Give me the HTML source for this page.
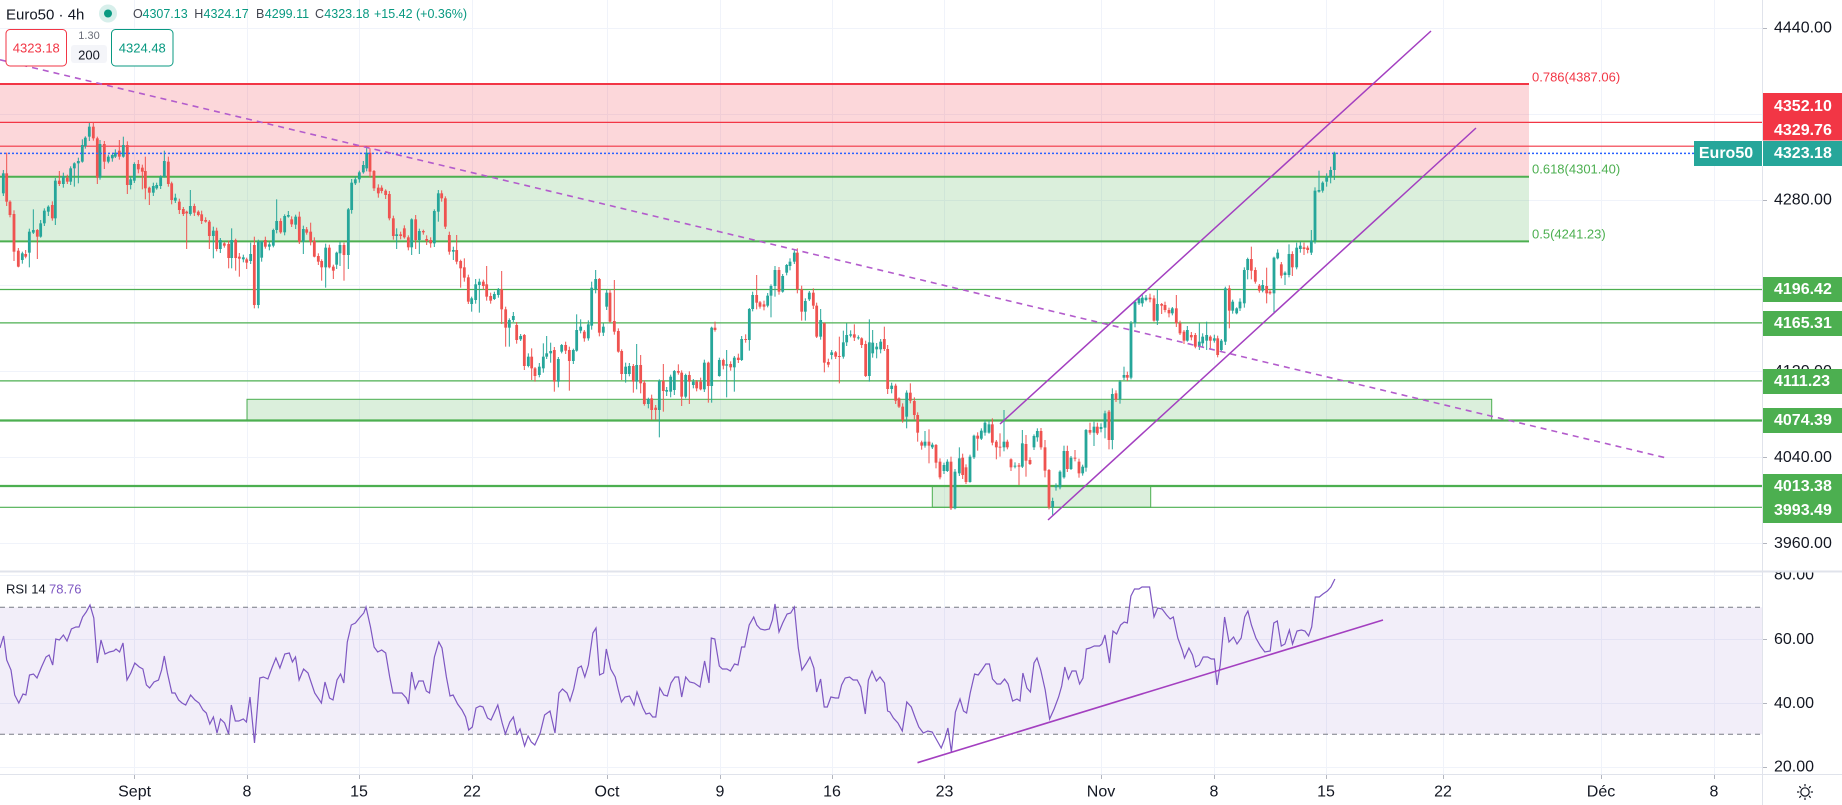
<!DOCTYPE html>
<html><head><meta charset="utf-8">
<style>
html,body{margin:0;padding:0;background:#fff;}
body{width:1842px;height:805px;overflow:hidden;position:relative;font-family:"Liberation Sans",sans-serif;}
svg{position:absolute;left:0;top:0;}
</style></head><body>
<svg width="1842" height="805" viewBox="0 0 1842 805" xmlns="http://www.w3.org/2000/svg" font-family="Liberation Sans, sans-serif">
<defs><clipPath id="rsiclip"><rect x="1763" y="572.5" width="79" height="202"/></clipPath></defs>
<!-- grid -->
<g stroke="#f0f3fa" stroke-width="1">
<line x1="0" y1="28.5" x2="1762" y2="28.5"/><line x1="0" y1="114.5" x2="1762" y2="114.5"/><line x1="0" y1="200.5" x2="1762" y2="200.5"/><line x1="0" y1="285.5" x2="1762" y2="285.5"/><line x1="0" y1="371.5" x2="1762" y2="371.5"/><line x1="0" y1="457.5" x2="1762" y2="457.5"/><line x1="0" y1="543.5" x2="1762" y2="543.5"/>
<line x1="0" y1="575.5" x2="1762" y2="575.5"/><line x1="0" y1="639.5" x2="1762" y2="639.5"/><line x1="0" y1="703.5" x2="1762" y2="703.5"/><line x1="0" y1="767.5" x2="1762" y2="767.5"/>
<line x1="134.5" y1="0" x2="134.5" y2="774"/><line x1="247.5" y1="0" x2="247.5" y2="774"/><line x1="359.5" y1="0" x2="359.5" y2="774"/><line x1="472.5" y1="0" x2="472.5" y2="774"/><line x1="607.5" y1="0" x2="607.5" y2="774"/><line x1="720.5" y1="0" x2="720.5" y2="774"/><line x1="832.5" y1="0" x2="832.5" y2="774"/><line x1="944.5" y1="0" x2="944.5" y2="774"/><line x1="1101.5" y1="0" x2="1101.5" y2="774"/><line x1="1214.5" y1="0" x2="1214.5" y2="774"/><line x1="1326.5" y1="0" x2="1326.5" y2="774"/><line x1="1443.5" y1="0" x2="1443.5" y2="774"/><line x1="1601.5" y1="0" x2="1601.5" y2="774"/><line x1="1714.5" y1="0" x2="1714.5" y2="774"/>
</g>
<!-- fib zones -->
<rect x="0" y="84" width="1529" height="92.8" fill="rgba(242,54,69,0.2)"/>
<rect x="0" y="176.8" width="1529" height="64.6" fill="rgba(76,175,80,0.2)"/>
<line x1="0" y1="84" x2="1529" y2="84" stroke="#f23645" stroke-width="2"/>
<line x1="0" y1="176.8" x2="1529" y2="176.8" stroke="#4caf50" stroke-width="2"/>
<line x1="0" y1="241.4" x2="1529" y2="241.4" stroke="#4caf50" stroke-width="2"/>
<text x="1532" y="77" font-size="13" fill="#f23645" dominant-baseline="central">0.786(4387.06)</text>
<text x="1532" y="169" font-size="13" fill="#4caf50" dominant-baseline="central">0.618(4301.40)</text>
<text x="1532" y="234" font-size="13" fill="#4caf50" dominant-baseline="central">0.5(4241.23)</text>
<!-- rectangles -->
<rect x="247" y="399.3" width="1244.7" height="21.2" fill="rgba(76,175,80,0.2)" stroke="#4caf50" stroke-width="1"/>
<rect x="932.3" y="486" width="218.4" height="21.3" fill="rgba(76,175,80,0.2)" stroke="#4caf50" stroke-width="1"/>
<!-- horizontal levels -->
<line x1="0" y1="122.4" x2="1762" y2="122.4" stroke="#f23645" stroke-width="1.2"/>
<line x1="0" y1="146.2" x2="1762" y2="146.2" stroke="#f23645" stroke-width="1.2"/>
<line x1="0" y1="289.5" x2="1762" y2="289.5" stroke="#4caf50" stroke-width="1.2"/>
<line x1="0" y1="322.9" x2="1762" y2="322.9" stroke="#4caf50" stroke-width="1.2"/>
<line x1="0" y1="380.9" x2="1762" y2="380.9" stroke="#4caf50" stroke-width="1.2"/>
<line x1="0" y1="420.5" x2="1762" y2="420.5" stroke="#4caf50" stroke-width="2.2"/>
<line x1="0" y1="486" x2="1762" y2="486" stroke="#4caf50" stroke-width="2.2"/>
<line x1="0" y1="507.3" x2="1762" y2="507.3" stroke="#4caf50" stroke-width="1.2"/>
<!-- RSI band -->
<rect x="0" y="607.3" width="1762" height="127" fill="rgba(126,87,194,0.1)"/>
<line x1="0" y1="607.3" x2="1762" y2="607.3" stroke="#787b86" stroke-dasharray="5 4"/>
<line x1="0" y1="734.3" x2="1762" y2="734.3" stroke="#787b86" stroke-dasharray="5 4"/>
<!-- candles -->
<g id="cd"></g>
<!-- price line -->
<line x1="0" y1="153.4" x2="1694" y2="153.4" stroke="#2962ff" stroke-width="1.5" stroke-dasharray="2 2"/>
<!-- trend lines -->
<line x1="0" y1="59.8" x2="1667.7" y2="458.3" stroke="#b35ccc" stroke-width="1.6" stroke-dasharray="6 5"/>
<line x1="1000" y1="424" x2="1431" y2="31" stroke="#a33fc0" stroke-width="1.5"/>
<line x1="1048" y1="520" x2="1476" y2="128" stroke="#a33fc0" stroke-width="1.5"/>
<!-- RSI line -->
<polyline fill="none" stroke="#7e57c2" stroke-width="1.2" points="0,648 3.6,636 6.7,660 11,670 14.7,695 18.8,703 23,694 25.9,695 29.5,675 33.5,674 37,678 41.5,667 46,657 49.1,655 52.7,665 55.8,639 59.4,640 63.4,635 67,641 71.4,629 75.9,627 79,627 82.6,617 86.2,612 90,605 93.8,618 97.3,663 101,640 105,654 109.4,652 113.8,651 116,649 119.6,652 123,643 127,680 130.8,673 134.8,663 139.3,667 142.9,669 146.4,685 149.6,688 154,682 158.5,680 161.6,670 164.3,656 167.4,673 171.9,693 175,693 178.6,700 182,703 185.7,705 190.6,695 195,700 199,703 203,710 206.3,713 209.8,724 213.4,717 217,733 220.5,719 224.6,723 228.6,734 231.3,705 235.3,721 238.8,721 243.3,719 246.4,722 250,697 254.5,743 259.8,678 263.4,677 267.9,679 272.3,667 275.9,658 279.9,668 284.8,654 289.3,653 292.4,662 295.5,657 299.1,680 303.6,669 308,673 314.7,693 321.4,703 325,682 329.5,698 333,700 337,680 340.6,674 343.8,683 347.3,642 351.3,625 355.4,623 359.4,618 363.8,613 366,607 370.5,627 374.1,647 377.7,652 381.7,650 385.7,653 389.7,677 392.9,693 397.3,693 401.8,693 406.3,698 408.5,704 411.6,672 415.2,689 418.8,681 423.2,681 426.3,691 429.5,693 434.4,657 438.8,642 442,648 446.4,677 450,696 453.1,695 457.6,704 462,710 465.6,717 468.7,730 472.3,727 476,708 480,706 483,707 487.5,718 491,720 497.8,705 502.2,723 505.4,734 509.8,722 513.4,717 517,734 520,729 524.6,746 528.1,736 531.3,742 534.8,745 540.2,733 544.6,715 550,711 555,733 559,693 562.5,689 567,693 570,701 573.7,689 578,668 581.3,666 584.8,677 588.4,665 592.9,633 596,628 599.6,675 603.6,673 606.3,649 610.7,669 615.2,677 618.3,690 621.4,702 625,697 629.5,696 634,705 637,692 642.9,708 646,714 649.6,713 652.7,717 655.8,717 659.8,688 663.8,695 667.4,696 671,683 675,677 678.6,677 681.7,697 685.7,677 689.7,682 694.2,683 700,687 704.6,661 709,683 711.3,638 714.8,639 719.3,666 722.4,669 726.9,669 730.4,671 734.5,664 738,665 741.6,647 744.7,647 749.2,625 753.7,617 756.8,625 760.4,629 764.8,630 769.3,629 772.4,620 775,604 779,632 782.7,623 787.1,614 790.7,613 794.3,607 798.3,648 801.9,670 805.9,664 810,657 813.9,668 816.6,692 820.6,679 824.2,707 827.3,707 830.9,697 835.4,698 838.5,698 841.6,685 845.2,678 849.6,677 853.2,680 857.2,680 860.8,687 865.3,714 868.4,680 872,671 876.4,681 880,677 884.5,683 887.6,711 889.8,712 893.4,718 897.9,723 902.3,731 906.8,702 911.3,707 915.3,718 918.8,727 923.3,733 927.8,731 932.2,732 936.7,740 941.2,748 944.7,739 947.9,728 951.4,752 955.4,712 960,699 963.5,711 966.6,713 970.2,693 974.6,674 978.2,675 981.8,670 985.8,664 989.4,664 992.5,679 997,684 1000.5,684 1004.6,679 1008.1,684 1012.6,701 1017,699 1020,701 1022.9,673 1026.9,688 1030.4,692 1034,663 1037,658 1040.7,670 1045.2,690 1049.6,719 1054.1,709 1058.6,697 1061.7,686 1064.8,667 1068.4,679 1072,671 1076,671 1079.6,684 1083,678 1086.3,649 1089.8,648 1094.3,646 1099.6,646 1101.9,644 1105,635 1109.5,663 1113,631 1116.6,634 1120.6,625 1124.2,622 1127.3,623 1130.9,596 1134.5,589 1138.9,589 1142,587 1146.5,587 1149.6,587 1154,617 1157.7,608 1162.1,609 1166.6,615 1170.2,619 1173.3,617 1177.8,638 1182.2,650 1184.5,658 1188.9,648 1192.5,655 1195.6,667 1199.2,665 1203.2,657 1207.7,657 1211.3,659 1214.4,659 1217,685 1220.2,665 1224.6,617 1229,642 1233.6,637 1237,644 1241.2,638 1244.7,617 1247.9,611 1251.4,625 1255.9,638 1260.4,646 1264.8,652 1270.2,651 1273.8,623 1277.3,621 1281.3,646 1284.9,644 1289.4,630 1292.5,644 1297,631 1301.4,630 1305,631 1308.6,636 1311.7,627 1315.3,597 1319.3,597 1322.9,594 1327.3,591 1330.9,587 1334.9,579"/>
<line x1="917.5" y1="762.7" x2="1383" y2="620" stroke="#a33fc0" stroke-width="1.6"/>
<!-- axis areas -->
<rect x="1763" y="0" width="79" height="805" fill="#fff"/>
<rect x="0" y="775" width="1763" height="30" fill="#fff"/>
<line x1="1762.5" y1="0" x2="1762.5" y2="805" stroke="#e0e3eb" stroke-width="1"/>
<line x1="0" y1="571.5" x2="1842" y2="571.5" stroke="#e0e3eb" stroke-width="2"/>
<line x1="0" y1="774.5" x2="1842" y2="774.5" stroke="#e0e3eb" stroke-width="1"/>
<!-- axis ticks -->
<g stroke="#b2b5be" stroke-width="1">
<line x1="1763" y1="28.5" x2="1767" y2="28.5"/><line x1="1763" y1="200.5" x2="1767" y2="200.5"/><line x1="1763" y1="457.5" x2="1767" y2="457.5"/><line x1="1763" y1="543.5" x2="1767" y2="543.5"/><line x1="1763" y1="639.5" x2="1767" y2="639.5"/><line x1="1763" y1="703.5" x2="1767" y2="703.5"/><line x1="1763" y1="767.5" x2="1767" y2="767.5"/>
<line x1="134.5" y1="775" x2="134.5" y2="779"/><line x1="247.5" y1="775" x2="247.5" y2="779"/><line x1="359.5" y1="775" x2="359.5" y2="779"/><line x1="472.5" y1="775" x2="472.5" y2="779"/><line x1="607.5" y1="775" x2="607.5" y2="779"/><line x1="720.5" y1="775" x2="720.5" y2="779"/><line x1="832.5" y1="775" x2="832.5" y2="779"/><line x1="944.5" y1="775" x2="944.5" y2="779"/><line x1="1101.5" y1="775" x2="1101.5" y2="779"/><line x1="1214.5" y1="775" x2="1214.5" y2="779"/><line x1="1326.5" y1="775" x2="1326.5" y2="779"/><line x1="1443.5" y1="775" x2="1443.5" y2="779"/><line x1="1601.5" y1="775" x2="1601.5" y2="779"/><line x1="1714.5" y1="775" x2="1714.5" y2="779"/>
</g>
<!-- price axis labels -->
<g font-size="16" fill="#131722" dominant-baseline="central">
<text x="1774" y="28">4440.00</text>
<text x="1774" y="114">4360.00</text>
<text x="1774" y="199.8">4280.00</text>
<text x="1774" y="285.6">4200.00</text>
<text x="1774" y="371.5">4120.00</text>
<text x="1774" y="457.4">4040.00</text>
<text x="1774" y="543.3">3960.00</text>
</g>
<g font-size="16" fill="#131722" dominant-baseline="central" clip-path="url(#rsiclip)">
<text x="1774" y="575">80.00</text>
<text x="1774" y="639.3">60.00</text>
<text x="1774" y="703.3">40.00</text>
<text x="1774" y="767">20.00</text>
</g>
<!-- colored labels -->
<rect x="1763" y="93" width="79" height="47.5" fill="#f23645"/>
<rect x="1694" y="141" width="148" height="25" fill="#26a69a"/>
<line x1="1762.5" y1="141" x2="1762.5" y2="166" stroke="#fff" stroke-width="1"/>
<rect x="1763" y="277" width="79" height="25" fill="#4caf50"/>
<rect x="1763" y="311" width="79" height="25" fill="#4caf50"/>
<rect x="1763" y="369" width="79" height="25" fill="#4caf50"/>
<rect x="1763" y="408" width="79" height="25" fill="#4caf50"/>
<rect x="1763" y="474" width="79" height="49" fill="#4caf50"/>
<g font-size="16" fill="#fff" font-weight="bold" dominant-baseline="central">
<text x="1774" y="106.7">4352.10</text>
<text x="1774" y="130.7">4329.76</text>
<text x="1726" y="153.6" text-anchor="middle">Euro50</text>
<text x="1774" y="153.6">4323.18</text>
<text x="1774" y="289.5">4196.42</text>
<text x="1774" y="323.3">4165.31</text>
<text x="1774" y="381.5">4111.23</text>
<text x="1774" y="420.4">4074.39</text>
<text x="1774" y="486.7">4013.38</text>
<text x="1774" y="510.7">3993.49</text>
</g>
<!-- time axis -->
<g font-size="16" fill="#131722" text-anchor="middle" dominant-baseline="central">
<text x="134.6" y="792">Sept</text><text x="247" y="792">8</text><text x="359" y="792">15</text><text x="472" y="792">22</text><text x="607" y="792">Oct</text><text x="720" y="792">9</text><text x="832" y="792">16</text><text x="944.5" y="792">23</text><text x="1101" y="792">Nov</text><text x="1214" y="792">8</text><text x="1326" y="792">15</text><text x="1443" y="792">22</text><text x="1601" y="792">Déc</text><text x="1714" y="792">8</text>
</g>
<g stroke="#131722" stroke-width="1.2" fill="none">
<circle cx="1805" cy="792" r="4.2"/>
<line x1="1805" y1="784" x2="1805" y2="786.3"/><line x1="1805" y1="797.7" x2="1805" y2="800"/><line x1="1797" y1="792" x2="1799.3" y2="792"/><line x1="1810.7" y1="792" x2="1813" y2="792"/>
<line x1="1799.3" y1="786.3" x2="1800.9" y2="787.9"/><line x1="1809.1" y1="796.1" x2="1810.7" y2="797.7"/><line x1="1799.3" y1="797.7" x2="1800.9" y2="796.1"/><line x1="1809.1" y1="787.9" x2="1810.7" y2="786.3"/>
</g>
<!-- header -->
<text x="6" y="19.5" font-size="15" fill="#131722">Euro50 · 4h</text>
<circle cx="108" cy="13.5" r="9" fill="#d7efeb"/>
<circle cx="108" cy="13.5" r="4" fill="#089981"/>
<g font-size="12.5" dominant-baseline="central">
<text x="133" y="14" fill="#434651">O</text><text x="142.5" y="14" fill="#089981">4307.13</text>
<text x="194.3" y="14" fill="#434651">H</text><text x="203.5" y="14" fill="#089981">4324.17</text>
<text x="256" y="14" fill="#434651">B</text><text x="264.8" y="14" fill="#089981">4299.11</text>
<text x="315" y="14" fill="#434651">C</text><text x="324.3" y="14" fill="#089981">4323.18</text>
<text x="374" y="14" fill="#089981">+15.42</text><text x="416" y="14" fill="#089981">(+0.36%)</text>
</g>
<rect x="6" y="29.5" width="60.5" height="36.5" rx="4" fill="#fff" stroke="#f23645" stroke-width="1"/>
<text x="36.3" y="48" font-size="13" fill="#f23645" text-anchor="middle" dominant-baseline="central">4323.18</text>
<text x="89" y="36" font-size="11" fill="#6a6d78" text-anchor="middle" dominant-baseline="central">1.30</text>
<rect x="71" y="45" width="36" height="18" rx="3" fill="#f4f5f9"/>
<text x="89" y="55" font-size="13" fill="#131722" text-anchor="middle" dominant-baseline="central">200</text>
<rect x="111.5" y="29.5" width="61.5" height="36.5" rx="4" fill="#fff" stroke="#089981" stroke-width="1"/>
<text x="142.3" y="48" font-size="13" fill="#089981" text-anchor="middle" dominant-baseline="central">4324.48</text>
<text x="6" y="589" font-size="13" fill="#131722" dominant-baseline="central">RSI 14</text>
<text x="49" y="589" font-size="13" fill="#7e57c2" dominant-baseline="central">78.76</text>
</svg>
<script>
var S=[[0,60,[[10,340,400,1,0,0],[20,340,425,0,278,0],[30,425,465,0,0,0],[42,462,575,0,0,603],[55,572,620,0,0,622],[67,580,600,1,0,0],[77,582,590,0,0,0],[88,515,578,1,0,622],[100,510,518,1,448,0],[112,510,530,0,0,597],[122,490,530,1,0,0],[133,452,490,1,0,0],[145,440,455,1,0,0],[157,435,475,0,0,0],[166,362,475,1,0,495],[178,362,372,0,333,0],[190,348,372,1,338,0],[202,353,365,0,0,372],[212,325,365,1,0,0],[223,310,325,1,0,380],[235,303,310,1,0,370],[247,255,305,1,238,0],[256,233,258,1,0,0],[268,200,230,1,0,0],[280,200,235,0,188,0],[292,235,353,0,0,372],[300,252,353,1,0,0],[313,252,305,0,0,327],[325,290,305,1,0,0],[337,285,295,1,0,0],[346,278,290,1,0,0],[358,272,290,0,240,0],[370,255,290,1,230,0],[382,255,375,0,0,402],[392,358,375,1,0,0],[403,312,362,1,0,0],[415,312,328,0,0,0],[427,323,335,0,0,388],[436,333,385,0,290,418],[448,383,398,0,0,435],[460,378,398,1,0,0],[470,375,385,1,0,0],[482,350,378,1,0,0],[493,303,350,1,272,0],[505,305,372,0,290,0],[515,370,420,0,0,0],[526,413,422,1,0,0],[538,425,450,0,0,0],[550,447,462,0,0,0],[560,455,460,0,0,567],[571,438,462,1,390,0],[583,438,458,0,0,0],[595,455,465,0,0,0],[605,463,483,0,0,0],[617,480,485,0,0,0],[628,485,528,0,0,567],[640,512,528,1,0,595],[650,512,567,0,0,0],[661,540,567,1,0,0],[673,550,557,0,0,0],[686,552,594,0,0,625],[695,540,594,1,505,625],[707,540,594,0,0,632],[718,590,596,0,0,650],[730,592,598,1,0,0],[740,598,608,0,0,627],[752,582,603,1,548,612],[763,555,735,0,530,745],[775,545,735,1,0,745],[785,545,593,1,0,0],[796,540,560,0,0,0],[808,553,560,1,0,0],[820,510,557,1,0,0],[830,483,510,1,418,0],[842,483,517,0,0,0],[854,468,517,1,0,0],[865,465,470,1,0,0],[875,478,493,0,0,0],[887,470,494,1,0,0],[898,470,545,0,455,0],[910,507,545,1,0,582],[920,508,518,0,0,0],[932,515,545,0,488,0],[943,543,590,0,0,592],[955,588,605,0,0,0],[965,603,622,0,0,662],[977,563,622,1,0,683],[988,563,622,0,0,0],[1000,620,632,0,0,657],[1010,578,614,1,0,0],[1020,555,580,1,0,618],[1032,555,585,0,0,662],[1045,448,585,1,0,627],[1055,368,450,1,0,0],[1066,358,370,1,0,0],[1078,337,358,1,0,0],[1090,315,337,1,0,0],[1100,278,325,1,260,0],[1110,278,335,0,265,352],[1122,333,385,0,0,0],[1135,383,400,0,0,0],[1145,383,393,0,0,0],[1157,392,405,0,0,0]]],
[380,180,[[28,42,115,0,33,0],[40,115,168,0,0,0],[50,163,168,1,145,207],[62,163,168,0,155,0],[73,145,172,0,0,0],[85,172,202,0,0,0],[95,118,202,1,0,225],[107,118,180,0,105,207],[118,153,180,1,0,222],[130,153,157,0,0,0],[140,177,183,0,0,0],[152,180,190,0,0,203],[163,93,190,1,0,0],[175,40,95,1,30,125],[185,40,55,0,0,0],[196,55,140,0,0,147],[208,165,215,0,155,0],[220,210,215,1,0,240],[230,210,245,0,165,0],[242,243,265,0,0,323],[253,262,293,0,235,305],[265,292,365,0,0,372],[275,355,372,1,0,395],[287,313,360,1,297,0],[298,305,315,1,0,398],[310,305,318,0,0,0],[320,313,350,0,258,362],[332,348,362,0,0,0],[343,342,357,1,0,0],[355,328,345,1,0,0],[365,328,388,0,273,432],[377,388,443,0,0,500],[388,420,443,1,0,500],[400,408,420,1,0,0],[410,435,480,0,0,0],[422,468,478,1,0,0],[433,465,558,0,0,570],[445,530,558,1,0,0],[455,530,565,0,505,600],[465,565,588,0,0,605],[478,560,585,1,0,592],[490,530,565,1,490,0],[500,520,530,1,468,0],[512,513,520,1,488,548],[523,510,605,0,0,635],[535,537,605,1,0,622],[545,495,515,1,492,0],[557,495,512,0,0,0],[568,510,543,0,500,632],[580,510,543,1,0,0],[590,450,512,1,403,0],[602,440,452,1,418,0],[613,455,475,0,0,485],[625,433,475,1,0,0],[635,323,437,1,305,0],[647,297,328,1,270,340],[658,297,458,0,0,0],[670,440,458,1,0,468],[680,338,380,1,330,0],[690,338,425,0,328,0],[703,423,455,0,300,0],[715,453,515,0,0,0],[725,513,582,0,0,600],[737,560,582,1,0,608],[748,558,582,1,0,0],[760,558,605,0,0,638],[770,555,605,1,492,628],[782,555,610,0,525,640],[793,608,672,0,0,0],[805,657,672,1,0,685],[815,655,690,0,0,720],[827,683,690,0,0,720],[838,603,690,1,0,772],[850,603,633,0,552,695],[860,630,635,1,0,0],[872,590,635,1,0,652],[883,573,630,1,0,645],[895,573,578,0,553,0],[905,578,650,0,0,678],[917,585,650,1,0,0],[928,585,605,0,0,672],[940,605,615,1,0,625],[950,605,625,0,0,0],[962,605,628,0,0,0],[973,548,628,1,0,0],[985,548,618,0,545,668],[995,443,618,1,0,668],[1005,443,450,0,425,455],[1018,540,588,1,0,590],[1030,540,557,0,0,0],[1040,553,557,1,510,652],[1052,552,562,0,0,0],[1063,533,562,1,0,635],[1075,533,540,0,0,0],[1085,477,540,1,468,0],[1097,477,480,0,463,0],[1108,387,480,1,0,512],[1118,345,387,1,0,0],[1130,345,368,0,285,388],[1140,367,380,0,0,0],[1152,373,380,0,0,0],[1163,347,377,1,0,0],[1173,318,347,1,0,412],[1185,270,318,1,0,350],[1197,270,335,0,0,0],[1208,288,335,1,0,0],[1220,255,278,1,0,0],[1230,245,258,1,0,0],[1243,218,245,1,0,0]]],
[790,240,[[22,38,148,0,25,0],[35,148,215,0,0,242],[46,183,215,1,0,242],[58,158,178,1,0,0],[70,158,197,0,145,0],[80,197,290,0,0,0],[92,240,290,1,207,0],[103,250,368,0,0,397],[115,366,374,0,0,0],[125,337,345,1,0,0],[137,337,350,0,0,0],[148,348,350,0,290,430],[160,307,350,1,272,0],[170,285,307,1,250,0],[182,283,287,1,0,0],[193,283,293,0,253,0],[205,292,295,1,0,0],[215,295,315,0,0,0],[227,312,408,0,0,0],[238,307,408,1,238,425],[248,308,340,1,270,0],[260,320,328,1,0,355],[272,305,328,1,0,0],[283,297,327,0,260,0],[293,327,447,0,0,462],[305,437,447,1,0,460],[317,437,482,0,0,0],[327,475,500,0,0,0],[338,500,540,0,0,548],[350,458,530,1,0,565],[361,458,482,0,430,0],[373,483,525,0,0,0],[383,525,578,0,0,605],[395,607,617,0,0,0],[405,605,617,1,573,0],[417,605,617,0,568,670],[427,614,622,1,0,0],[438,615,668,0,0,685],[450,665,712,0,0,718],[462,675,693,1,0,0],[472,665,693,1,658,0],[483,665,805,0,650,810],[495,695,805,1,0,808],[508,655,700,1,622,708],[518,653,705,0,0,0],[528,682,726,0,0,732],[540,650,726,1,0,728],[552,587,652,1,0,0],[563,587,596,0,0,632],[574,572,596,1,0,0],[585,548,578,1,540,0],[597,553,578,1,0,0],[607,553,608,0,535,0],[619,605,622,0,0,658],[630,620,622,0,580,650],[642,605,622,1,510,0],[652,605,622,0,0,0],[663,658,682,0,0,0],[675,677,680,1,0,0],[687,676,680,0,0,735],[697,610,680,1,570,0],[708,612,662,0,585,710],[720,660,672,0,0,0],[732,588,622,1,0,0],[742,573,592,1,565,0],[753,573,622,0,0,0],[765,622,692,0,600,712],[777,690,802,0,0,0],[788,783,802,1,0,825],[798,737,742,1,0,752],[810,695,742,1,0,748],[822,633,712,1,617,0],[832,633,687,0,617,0],[843,653,687,1,0,0],[855,653,656,0,630,0],[867,665,700,0,0,0],[878,680,700,1,0,707],[888,570,683,1,0,0],[900,570,578,0,548,0],[912,560,578,1,545,618],[922,560,580,0,548,0],[933,561,567,1,0,0],[945,520,563,1,0,595],[957,515,600,0,0,628],[967,462,600,1,445,628],[978,460,478,0,0,0],[990,425,478,1,420,0],[1002,405,413,1,380,0],[1012,405,413,0,0,423],[1023,250,413,1,0,418],[1035,185,250,1,0,262],[1047,175,190,1,170,0],[1057,173,190,1,0,0],[1068,173,180,1,165,0],[1080,173,178,0,0,0]]],
[1150,20,[[12,835,902,0,0,0],[22,852,902,1,808,915],[35,852,857,0,0,882],[45,855,870,0,0,0],[57,870,880,0,0,0],[67,865,880,1,0,0],[79,865,910,0,825,0],[90,910,940,0,0,945],[102,935,962,0,0,0],[112,930,962,1,0,965],[124,945,952,0,0,0],[136,945,980,0,0,985],[148,965,980,1,910,990],[158,950,970,1,0,0],[170,945,962,1,905,990],[181,950,962,0,0,985],[193,955,962,1,0,0],[203,955,1005,0,0,1012],[214,962,990,1,0,0],[226,805,965,1,800,0],[238,805,872,0,0,925],[248,845,872,1,0,0],[260,865,880,1,0,0],[270,845,865,1,0,0],[283,750,850,1,742,0],[293,717,750,1,0,778],[304,717,752,0,680,778],[316,750,785,0,0,0],[328,797,812,0,0,818],[338,795,812,1,780,0],[350,798,820,0,743,850],[360,815,820,0,0,0],[372,713,820,1,0,878],[383,698,715,1,0,0],[394,733,767,0,0,0],[405,758,765,1,0,795],[417,702,765,1,673,0],[427,702,742,0,0,768],[440,683,742,1,668,0],[451,677,687,1,0,0],[462,682,687,0,668,705],[473,683,690,0,0,0],[484,662,698,1,630,705],[495,512,662,1,0,0],[507,510,515,1,452,518],[518,488,512,1,0,518],[530,470,485,1,460,500],[542,450,472,1,440,490],[553,398,450,1,395,480]]]];
var h='',k=0;
for(var s=0;s<S.length;s++){var ox=S[s][0],oy=S[s][1],d=S[s][2];
for(var j=0;j<d.length;j++){var c=d[j];k++;
var zx=c[0],t=c[1],b=c[2],up=c[3],hi=c[4],lo=c[5];
var e1=3+(k*7)%10,e2=3+(k*5)%11;
if(!(hi&&hi<t))hi=t-e1; if(!(lo&&lo>b))lo=b+e2;
var x=ox+zx/3,col=up?'#26a69a':'#ef5350';
var yt=oy+t/3,yb=oy+b/3,yh=oy+hi/3,yl=oy+lo/3;
h+='<rect x="'+(x-0.5).toFixed(2)+'" y="'+yh.toFixed(2)+'" width="1" height="'+(yl-yh).toFixed(2)+'" fill="'+col+'"/>';
h+='<rect x="'+(x-1.4).toFixed(2)+'" y="'+yt.toFixed(2)+'" width="2.8" height="'+Math.max(1,yb-yt).toFixed(2)+'" fill="'+col+'"/>';
}}
document.getElementById('cd').innerHTML=h;
</script>
</body></html>
